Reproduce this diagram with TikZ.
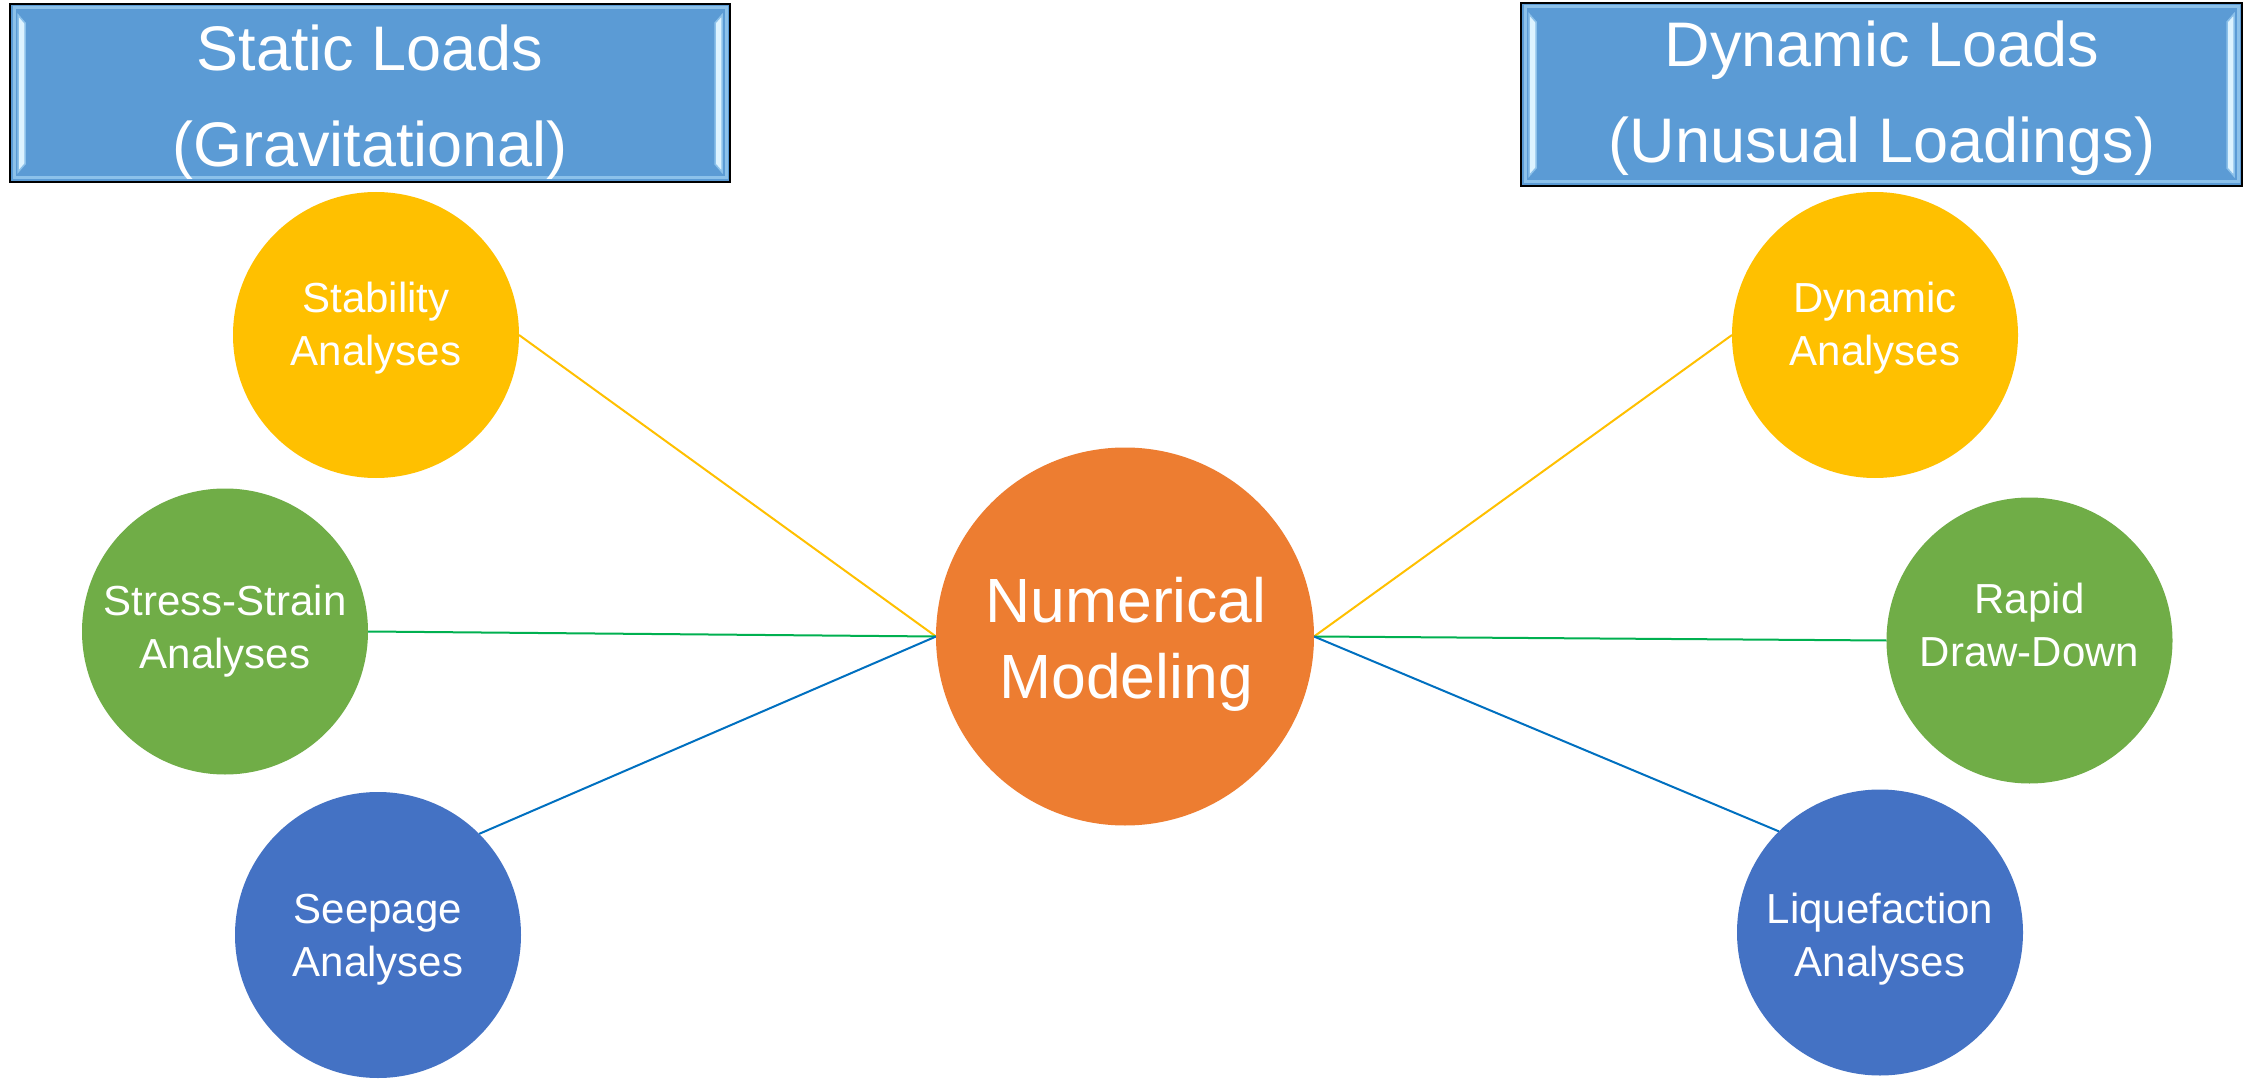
\documentclass[tikz,border=0pt]{standalone}
\usepackage{fontspec}
\setmainfont{Liberation Sans}
\usetikzlibrary{calc,backgrounds}

\definecolor{boxblue}{HTML}{5B9BD5}
\definecolor{bevellight}{HTML}{DDF3FF}
\definecolor{bevelrim}{HTML}{8CC1EA}
\definecolor{numorange}{HTML}{ED7D31}
\definecolor{gold}{HTML}{FFC000}
\definecolor{leaf}{HTML}{70AD47}
\definecolor{royal}{HTML}{4472C4}
\definecolor{lnyellow}{HTML}{FFC000}
\definecolor{lngreen}{HTML}{00B050}
\definecolor{lnblue}{HTML}{0070C0}

% raised-edge decoration inside a title box
\newcommand\boxbevel[1]{%
  \draw[bevelrim,line width=3pt]
    ($(#1.north west)+(4,4)$) rectangle ($(#1.south east)+(-4,-4)$);
  \fill[bevellight,draw=bevelrim,line width=1.5pt]
    ($(#1.north west)+(8,11)$) -- ($(#1.north west)+(15,19)$) --
    ($(#1.south west)+(15,-18)$) -- ($(#1.south west)+(8,-10)$) -- cycle;
  \fill[bevellight,draw=bevelrim,line width=1.5pt]
    ($(#1.north east)+(-8,11)$) -- ($(#1.north east)+(-15,19)$) --
    ($(#1.south east)+(-15,-18)$) -- ($(#1.south east)+(-8,-10)$) -- cycle;
  \draw[black,line width=2pt] (#1.north west) rectangle (#1.south east);
}

\begin{document}
\begin{tikzpicture}[x=1pt,y=-1pt,
  titlebox/.style={fill=boxblue,inner sep=0pt,outer sep=0pt},
  titletext/.style={text=white,align=center,inner sep=0pt,
    font=\fontsize{63}{96}\selectfont},
  bubble/.style={circle,inner sep=0pt,outer sep=0pt,minimum size=286pt},
  hub/.style={circle,inner sep=0pt,outer sep=0pt,minimum size=378pt,fill=numorange},
  bubbletext/.style={text=white,align=center,inner sep=0pt,
    font=\fontsize{42}{53}\selectfont},
  hubtext/.style={text=white,align=center,inner sep=0pt,
    font=\fontsize{62.5}{76}\selectfont},
  link/.style={line width=2pt}]

\useasboundingbox (0,0) rectangle (2244,1083);

% title boxes
\node[titlebox,minimum width=720pt,minimum height=178pt] (static) at (370,93) {};
\boxbevel{static}
\node[titletext] (static-t) at (370,99.8) {\strut Static Loads\\\strut (Gravitational)};

\node[titlebox,minimum width=721pt,minimum height=183pt] (dynamic) at (1881.5,94.5) {};
\boxbevel{dynamic}
\node[titletext] (dynamic-t) at (1882,95.8) {\strut Dynamic Loads\\\strut (Unusual Loadings)};

% central hub
\node[hub] (num) at (1125,636.5) {};
\node[hubtext] (num-t) at (1126,644.8) {\strut Numerical\\\strut Modeling};

% static-load analyses
\node[bubble,fill=gold] (stab) at (376,335) {};
\node[bubbletext] (stab-t) at (376,328.9) {\strut Stability\\\strut Analyses};

\node[bubble,fill=leaf] (stress) at (225,631.5) {};
\node[bubbletext] (stress-t) at (225,630.9) {\strut Stress-Strain\\\strut Analyses};

\node[bubble,fill=royal] (seep) at (378,935) {};
\node[bubbletext] (seep-t) at (378,938.9) {\strut Seepage\\\strut Analyses};

% dynamic-load analyses
\node[bubble,fill=gold] (dyn) at (1875,335) {};
\node[bubbletext] (dyn-t) at (1875,328.9) {\strut Dynamic\\\strut Analyses};

\node[bubble,fill=leaf] (rapid) at (2029.5,640.5) {};
\node[bubbletext] (rapid-t) at (2029.5,628.9) {\strut Rapid\\\strut Draw-Down};

\node[bubble,fill=royal] (liq) at (1880,932.5) {};
\node[bubbletext] (liq-t) at (1880,938.9) {\strut Liquefaction\\\strut Analyses};

% connectors, kept behind the circles
\begin{scope}[on background layer]
  \fill[white] (0,0) rectangle (2244,1083);
  \draw[link,lnyellow] (num.west) -- (stab.east);
  \draw[link,lngreen]  (num.west) -- (stress.east);
  \draw[link,lnblue]   (num.west) -- (seep.north east);
  \draw[link,lnyellow] (num.east) -- (dyn.west);
  \draw[link,lngreen]  (num.east) -- (rapid.west);
  \draw[link,lnblue]   (num.east) -- (liq.north west);
\end{scope}
\end{tikzpicture}
\end{document}
